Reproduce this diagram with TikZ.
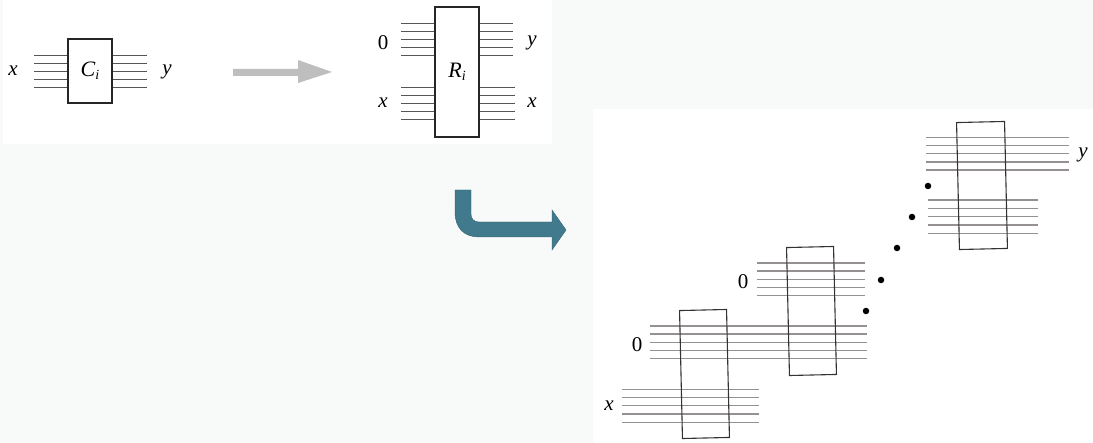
\documentclass[tikz,border=0pt]{standalone}
\usepackage{fontspec}
\setmainfont{Liberation Serif}
\definecolor{bgc}{RGB}{248,250,250}
\definecolor{teal1}{RGB}{64,122,140}
\definecolor{grayarrow}{RGB}{190,190,190}
\definecolor{wireA}{RGB}{85,85,85}
\definecolor{wireB}{RGB}{150,145,145}
\begin{document}
\begin{tikzpicture}[x=1pt,y=-1pt,
  lbl/.style={font=\fontsize{21}{24}\selectfont, inner sep=0pt},
  boxA/.style={draw=black!85, line width=1.1pt, fill=white, inner sep=0pt, minimum width=44pt},
  boxB/.style={draw=black!80, line width=1.1pt, inner sep=0pt, rotate=1.3},
  wa/.style={draw=wireA, line width=1pt},
  wb/.style={draw=wireB, line width=1.4pt},
  dotn/.style={circle, fill=black, inner sep=0pt, minimum size=6.5pt}]
% background and panels
\fill[bgc] (0,0) rectangle (1093,443);
\useasboundingbox (0,0) rectangle (1093,443);
\fill[white] (3,0) rectangle (552,144.5);
\fill[white] (593,109) rectangle (1093,443);

% ---------- top-left: C_i ----------
\foreach \yy in {56,64,72,80,88} {
  \draw[wa] (34,\yy) -- (68,\yy);
  \draw[wa] (112,\yy) -- (147,\yy);
}
\node[boxA, minimum height=64pt] (C) at (90,71) {\itshape\fontsize{22}{24}\selectfont C\raisebox{-0.3ex}{\fontsize{14}{14}\selectfont i}};
\node[lbl] (cx) at (13,71) {\itshape x};
\node[lbl] (cy) at (167,72) {\itshape y};

% gray arrow
\fill[grayarrow] (233,69) -- (298,69) -- (298,60) -- (332,72) -- (298,83) -- (298,76) -- (233,76) -- cycle;

% ---------- top: R_i ----------
\foreach \yy in {24,32,40,48,56} {
  \draw[wa] (401,\yy) -- (435,\yy);
  \draw[wa] (479,\yy) -- (513,\yy);
}
\foreach \yy in {88,96,104,112,120} {
  \draw[wa] (401,\yy) -- (435,\yy);
  \draw[wa] (479,\yy) -- (515,\yy);
}
\node[boxA, minimum height=130pt] (R) at (457,72) {\itshape\fontsize{22}{24}\selectfont R\raisebox{-0.3ex}{\fontsize{14}{14}\selectfont i}};
\node[lbl] (r0) at (383,43) {0};
\node[lbl] (ry) at (532,43) {\itshape y};
\node[lbl] (rxl) at (383,103) {\itshape x};
\node[lbl] (rxr) at (532,103) {\itshape x};

% teal turn arrow
\fill[teal1, draw=teal1!80!black, line width=0.4pt]
  (455,190) -- (471,190) -- (471,214)
  .. controls (471,219) and (474,222) .. (479,222)
  -- (552,222) -- (552,210) -- (566,230) -- (552,250) -- (552,237) -- (479,237)
  .. controls (464,237) and (455,228) .. (455,212) -- cycle;

% ---------- right panel: cascade ----------
\foreach \i in {0,...,4} {
  \draw[wb] (650,326+8.2*\i) -- (867,326+8.2*\i);
  \draw[wb] (622,389.3+8.25*\i) -- (759,389.3+8.25*\i);
  \draw[wb] (757,263+8.2*\i) -- (865,263+8.2*\i);
  \draw[wb] (926,137.3+8.2*\i) -- (1069,137.3+8.2*\i);
  \draw[wb] (928,200+8.33*\i) -- (1038,200+8.33*\i);
}
\node[boxB, minimum width=47pt, minimum height=128pt] (B1) at (704.5,374) {};
\node[boxB, minimum width=47pt, minimum height=128pt] (B2) at (811.5,311) {};
\node[boxB, minimum width=48pt, minimum height=127pt] (B3) at (982,185.5) {};

\node[lbl] (b0a) at (637,345) {0};
\node[lbl] (bx) at (609,406) {\itshape x};
\node[lbl] (b0b) at (743,282) {0};
\node[lbl] (by) at (1083,155) {\itshape y};

\node[dotn] (d1) at (866,311) {};
\node[dotn] (d2) at (881,280) {};
\node[dotn] (d3) at (897,248) {};
\node[dotn] (d4) at (912,217) {};
\node[dotn] (d5) at (928,186) {};
\end{tikzpicture}
\end{document}
